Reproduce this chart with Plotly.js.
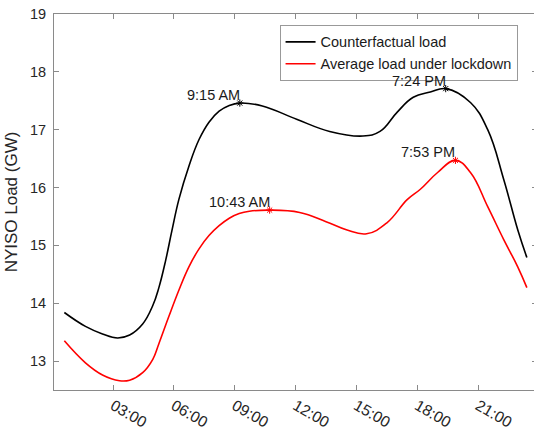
<!DOCTYPE html>
<html>
<head>
<meta charset="utf-8">
<script src="https://cdn.plot.ly/plotly-3.0.1.min.js"></script>
<style>html,body{margin:0;padding:0;background:#fff;overflow:hidden;}#wrap{width:534px;height:432px;overflow:hidden;}#chart{width:537px;height:432px;}</style>
</head>
<body>
<div id="wrap"><div id="chart"></div></div>
<script>
// hours of day
var hoursCF = [0.6,1.64,2.48,3.22,3.82,4.46,4.96,5.26,5.6,5.9,6.25,6.74,7.24,7.73,8.23,8.73,9.25,10.36,12.05,13.68,15.32,16.16,17.0,17.8,18.64,19.4,20.62,21.47,22.26,22.95,23.4];
var loadCF  = [13.84,13.6,13.47,13.40,13.45,13.64,13.96,14.27,14.75,15.25,15.8,16.37,16.83,17.13,17.32,17.42,17.46,17.41,17.18,16.97,16.89,16.97,17.3,17.56,17.65,17.71,17.47,17.0,16.14,15.27,14.79];
var hoursLD = [0.6,1.64,2.48,3.32,3.82,4.46,4.96,5.26,5.75,6.25,6.74,7.24,7.73,8.23,8.73,9.22,9.72,10.7,12.2,13.5,14.5,15.5,16.5,17.5,18.15,19.0,19.88,20.62,21.47,22.26,22.95,23.4];
var loadLD  = [13.35,12.97,12.76,12.66,12.67,12.8,13.03,13.3,13.77,14.23,14.63,14.94,15.17,15.34,15.47,15.55,15.59,15.61,15.57,15.41,15.27,15.2,15.39,15.79,15.97,16.26,16.47,16.26,15.67,15.1,14.63,14.27];

var peakHours  = [9.25, 19.4, 10.72, 19.88];
var peakLoads  = [17.46, 17.71, 15.61, 16.47];
var peakLabels = ['9:15 AM', '7:24 PM', '10:43 AM', '7:53 PM'];
var peakColors = ['#000000', '#000000', '#ff0000', '#ff0000'];

var tickHours  = [3, 6, 9, 12, 15, 18, 21];
var tickLabels = ['03:00', '06:00', '09:00', '12:00', '15:00', '18:00', '21:00'];
var yTicks = [13, 14, 15, 16, 17, 18, 19];

var FONT = 'Liberation Sans, Arial, Helvetica, sans-serif';

var traces = [
  {x: hoursCF, y: loadCF, mode: 'lines', name: 'Counterfactual load',
   line: {color: '#000000', width: 1.6, shape: 'spline', smoothing: 1.2}},
  {x: hoursLD, y: loadLD, mode: 'lines', name: 'Average load under lockdown',
   line: {color: '#ff0000', width: 1.6, shape: 'spline', smoothing: 1.2}},
  {x: peakHours, y: peakLoads, mode: 'markers', showlegend: false, hoverinfo: 'skip',
   marker: {symbol: 'asterisk-open', size: 6, color: peakColors, line: {color: peakColors, width: 1}}}
];

var annotations = peakHours.map(function(h, i){
  return {x: h, y: peakLoads[i], xref: 'x', yref: 'y', text: peakLabels[i],
          showarrow: false, xanchor: 'right', yanchor: 'bottom', xshift: 2, yshift: -2,
          font: {family: FONT, size: 14.5, color: '#1a1a1a'}};
});

var axisCommon = {
  showgrid: false, zeroline: false, showline: true, linecolor: '#8a8a8a', linewidth: 1,
  mirror: 'allticks', ticks: 'inside', ticklen: 5, tickcolor: '#8a8a8a', tickwidth: 1,
  tickfont: {family: FONT, size: 14.5, color: '#262626'}
};

var layout = {
  width: 537, height: 432,
  margin: {l: 54, r: 0, t: 14, b: 42},
  paper_bgcolor: '#ffffff', plot_bgcolor: '#ffffff',
  showlegend: true,
  legend: {x: 0.467, y: 0.971, xanchor: 'left', yanchor: 'top',
           bgcolor: '#ffffff', bordercolor: '#999999', borderwidth: 1,
           font: {family: FONT, size: 14.5, color: '#1a1a1a'},
           tracegroupgap: 0, itemwidth: 30},
  xaxis: Object.assign({}, axisCommon, {
    range: [0.09, 23.9], tickvals: tickHours, ticktext: tickLabels, tickangle: 30,
    tickfont: {family: FONT, size: 15.5, color: '#262626'}
  }),
  yaxis: Object.assign({}, axisCommon, {
    range: [12.5, 19], tickvals: yTicks, ticklabelstandoff: 4,
    title: {text: 'NYISO Load (GW)', font: {family: FONT, size: 17, color: '#262626'}, standoff: 8}
  }),
  annotations: annotations
};

Plotly.newPlot('chart', traces, layout, {staticPlot: true, displayModeBar: false});
</script>
</body>
</html>
